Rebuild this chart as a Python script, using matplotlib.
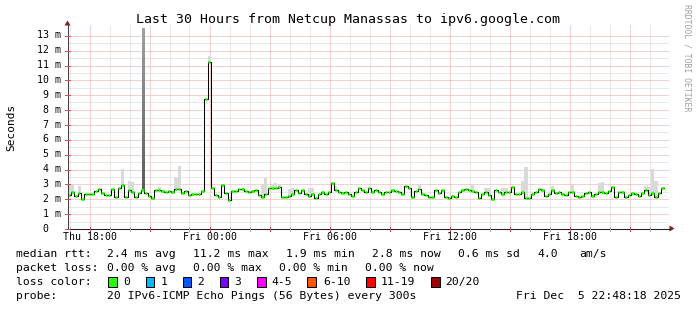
import numpy as np
import matplotlib
matplotlib.use('Agg')
import matplotlib.pyplot as plt
from matplotlib.lines import Line2D
from matplotlib.patches import Polygon, Rectangle
from matplotlib.colors import LinearSegmentedColormap

# ---------------- data ----------------
title = "Last 30 Hours from Netcup Manassas to ipv6.google.com"
step_minutes = 10
# median rtt in ms, one value per 10 minutes, starting Thu 16:53
median_ms = [
    2.25, 2.48, 2.2, 2.4, 2.0, 2.3, 2.35, 2.3, 2.5, 2.65, 2.4, 2.25, 2.25, 2.65, 2.15, 2.75,
    2.95, 2.15, 2.6, 2.45, 2.1, 2.4, 2.6, 2.4, 2.2, 2.05, 2.6, 2.6, 2.5, 2.45, 2.5,
    2.48, 2.65, 2.65, 2.4, 2.5, 2.28, 2.35, 2.35, 2.3, 2.5, 8.7, 11.2, 2.7, 2.25, 2.15,
    2.9, 2.4, 1.9, 2.55, 2.55, 2.65, 2.65, 2.55, 2.48, 2.5, 2.6, 2.25, 2.15, 2.3, 2.7,
    2.72, 2.74, 2.77, 2.1, 2.15, 2.2, 2.35, 2.6, 2.4, 2.6, 2.35, 2.2, 2.3, 2.05, 2.3,
    2.45, 2.3, 2.48, 3.05, 2.6, 2.48, 2.4, 2.48, 2.35, 2.2, 2.45, 2.7, 2.6, 2.45, 2.7,
    2.43, 2.57, 2.48, 2.35, 2.48, 2.48, 2.57, 2.5, 2.48, 2.3, 2.85, 2.75, 2.15, 2.5, 2.65,
    2.3, 2.25, 2.15, 2.12, 2.57, 2.4, 2.57, 2.15, 2.02, 2.2, 2.12, 2.45, 2.6, 2.65, 2.57,
    2.55, 2.45, 2.03, 2.35, 2.48, 2.25, 2.0, 2.57, 2.45, 2.35, 2.43, 2.45, 2.77, 2.3, 2.3,
    2.45, 2.03, 2.03, 2.3, 2.48, 2.65, 2.57, 2.18, 2.3, 2.57, 2.4, 2.48, 2.3, 2.25, 2.45,
    2.43, 2.2, 2.15, 2.2, 2.4, 2.48, 2.2, 2.3, 2.48, 2.45, 2.4, 2.5, 2.8, 2.12, 2.45,
    2.45, 2.1, 2.25, 2.4, 2.3, 2.2, 2.4, 2.57, 2.25, 2.4, 2.1, 2.4, 2.75,
]
# visible smoke (max ping) per 10-minute slot
smoke_idx = [0, 1, 3, 16, 18, 19, 27, 32, 33, 42, 58, 59, 61, 62, 63, 66, 67, 72, 73, 80,
             105, 121, 125, 126, 130, 131, 136, 137, 145, 151, 159, 160, 173, 174, 175, 176]
smoke_hi = [2.9, 3.0, 2.85, 4.0, 3.2, 3.15, 2.8, 3.4, 4.2, 11.6, 2.9, 3.4, 3.0, 3.05, 2.95, 2.65, 2.7, 2.75, 2.75, 2.85,
            3.0, 3.0, 2.75, 2.75, 2.75, 2.75, 3.2, 4.15, 2.85, 2.9, 3.05, 3.1, 2.85, 2.8, 4.0, 3.2]
# dark smoke burst (hours from start, ms)
burst_start_h, burst_end_h = 3.73, 3.87
burst_lo_ms, burst_hi_ms = 2.6, 13.45

first_label_offset_h = 1.117   # Thu 18:00 after start
x_labels = ["Thu 18:00", "Fri 00:00", "Fri 06:00", "Fri 12:00", "Fri 18:00"]
y_labels = ["0", "1 m", "2 m", "3 m", "4 m", "5 m", "6 m", "7 m", "8 m", "9 m", "10 m", "11 m", "12 m", "13 m"]

stats_rtt = ["2.4 ms avg", "11.2 ms max", "1.9 ms min", "2.8 ms now", "0.6 ms sd", "4.0", "am/s"]
stats_loss = ["0.00 % avg", "0.00 % max", "0.00 % min", "0.00 % now"]
loss_names = ["0", "1", "2", "3", "4-5", "6-10", "11-19", "20/20"]
loss_colors = ["#26ff00", "#00b8ff", "#0059ff", "#7e00ff", "#ff00ff", "#ff5500", "#ff0000", "#a00000"]
probe_text = "20 IPv6-ICMP Echo Pings (56 Bytes) every 300s"
date_text = "Fri Dec  5 22:48:18 2025"

# ---------------- figure ----------------
W, H = 697, 310
fig = plt.figure(figsize=(W / 100, H / 100), dpi=100)
fig.patch.set_facecolor('white')
MONO = 'DejaVu Sans Mono'

def fx(px):
    return px / W

def fy(py):
    return 1 - py / H

def pline(x0, y0, x1, y1, **kw):
    fig.add_artist(Line2D([fx(x0), fx(x1)], [fy(y0), fy(y1)], transform=fig.transFigure, **kw))

AX_L, AX_R, AX_B, AX_T = 67.5, 667.5, 228.5, 28.0
ax = fig.add_axes([fx(AX_L), fy(AX_B), (AX_R - AX_L) / W, (AX_B - AX_T) / H])
ax.set_xlim(0, 30)
ax.set_ylim(0, 13.5)
ax.axis('off')
ax.set_zorder(1)

px_per_h = (AX_R - AX_L) / 30
px_per_ms = (AX_B - AX_T) / 13.5

# grid (pixel snapped, dotted)
dot = dict(lw=0.72, linestyle=(0, (1.0, 1.0)), zorder=0)
MINOR_C, MAJOR_C = '#d2d2d2', '#eaa4a4'
for k in range(0, 31):
    h = first_label_offset_h - 1 + k
    if 0 < h < 30:
        xp = np.floor(AX_L + h * px_per_h) + 0.5
        major = (k - 1) % 3 == 0
        pline(xp, AX_B - 1, xp, 25, color=MAJOR_C if major else MINOR_C, **dot)
for k in range(1, 27):
    yp = np.floor(AX_B - k * 0.5 * px_per_ms) + 0.5
    major = k % 2 == 0
    pline(AX_L + 1, yp, 668, yp, color=MAJOR_C if major else MINOR_C, **dot)

med = np.array(median_ms)
n = len(med)
step_h = step_minutes / 60
t = np.arange(n + 1) * step_h

# smoke
si = np.array(smoke_idx)
sh = np.array(smoke_hi)
ax.bar(t[si], sh - med[si], bottom=med[si], width=step_h, align='edge',
       color='#d9d9d9', linewidth=0, zorder=2)
cmap = LinearSegmentedColormap.from_list('g', ['#5c5c5c', '#a0a0a0'])
ax.imshow(np.linspace(0, 1, 200).reshape(-1, 1), extent=[burst_start_h, burst_end_h, burst_lo_ms, burst_hi_ms],
          origin='lower', cmap=cmap, aspect='auto', zorder=3, interpolation='bilinear')
ax.set_xlim(0, 30)
ax.set_ylim(0, 13.5)

# median line
ax.step(t, np.r_[med, med[-1]], where='post', color='black', lw=0.75, zorder=4)
ax.hlines(med, t[:-1] + 0.02, t[1:] - 0.02, color=loss_colors[0], lw=2.0, zorder=5, capstyle='butt')

# axes lines and arrows
pline(AX_L, AX_B, AX_L, 24, color='#404040', lw=0.75)
pline(AX_L, AX_B, 670, AX_B, color='#202020', lw=0.75)
fig.add_artist(Polygon([(fx(64.5), fy(25.5)), (fx(70.5), fy(25.5)), (fx(67.5), fy(20.5))],
                       closed=True, transform=fig.transFigure, color='#8b1c1c', lw=0))
fig.add_artist(Polygon([(fx(669.5), fy(225.5)), (fx(669.5), fy(231.5)), (fx(674.5), fy(228.5))],
                       closed=True, transform=fig.transFigure, color='#8b1c1c', lw=0))

# ticks
for k in range(0, 31):
    h = first_label_offset_h - 1 + k
    if 0 < h < 30:
        xp = np.floor(AX_L + h * px_per_h) + 0.5
        major = (k - 1) % 3 == 0
        pline(xp, AX_B - 2, xp, AX_B + 2.5, color='#d05050' if major else '#aaaaaa', lw=0.72)
for k in range(0, 14):
    yp = np.floor(AX_B - k * px_per_ms) + 0.5
    pline(AX_L - 2.5, yp, AX_L + 2, yp, color='#d05050', lw=0.72)

# tick labels
for i, lab in enumerate(x_labels):
    h = first_label_offset_h + 6 * i
    fig.text(fx(AX_L + h * px_per_h), fy(237.5), lab, ha='center', va='center',
             fontsize=7.1, family=MONO)
for k, lab in enumerate(y_labels):
    yp = AX_B - k * px_per_ms
    xr = 60.5 if k > 0 else 48
    fig.text(fx(xr), fy(yp), lab, ha='right', va='center', fontsize=7.1, family=MONO)

# title / labels
fig.text(fx(348), fy(19), title, ha='center', va='center', fontsize=9.57, family=MONO)
fig.text(fx(11.5), fy(127), 'Seconds', rotation=90, ha='center', va='center', fontsize=8, family=MONO)
fig.text(fx(687), fy(4), 'RRDTOOL / TOBI OETIKER', rotation=270, ha='center', va='top',
         fontsize=5.9, family=MONO, color='#a0a0a0')

# legend block
LF = 8.2
fig.text(fx(16), fy(254), 'median rtt:', ha='left', va='center', fontsize=LF, family=MONO)
for s, xp in zip(stats_rtt, [107, 193, 286, 372, 458.5, 537, 579.5]):
    fig.text(fx(xp), fy(254), s, ha='left', va='center', fontsize=LF, family=MONO)
fig.text(fx(16), fy(268), 'packet loss:', ha='left', va='center', fontsize=LF, family=MONO)
for s, xp in zip(stats_loss, [107, 193, 279, 365]):
    fig.text(fx(xp), fy(268), s, ha='left', va='center', fontsize=LF, family=MONO)
fig.text(fx(16), fy(282), 'loss color:', ha='left', va='center', fontsize=LF, family=MONO)
box_x = [108, 145.5, 182.5, 219.5, 257, 307, 366, 431]
lab_x = [123.5, 160.5, 197.5, 234.5, 271.5, 323, 381, 445.5]
for name, col, bx, lx in zip(loss_names, loss_colors, box_x, lab_x):
    fig.add_artist(Rectangle((fx(bx), fy(287)), 8.5 / W, 10 / H, transform=fig.transFigure,
                             facecolor=col, edgecolor='black', lw=0.72))
    fig.text(fx(lx), fy(282), name, ha='left', va='center', fontsize=LF, family=MONO)
fig.text(fx(16), fy(296), 'probe:', ha='left', va='center', fontsize=LF, family=MONO)
fig.text(fx(107), fy(296), probe_text, ha='left', va='center', fontsize=LF, family=MONO)
fig.text(fx(681), fy(296), date_text, ha='right', va='center', fontsize=LF, family=MONO)

fig.savefig('out.png', dpi=100, facecolor='white')
